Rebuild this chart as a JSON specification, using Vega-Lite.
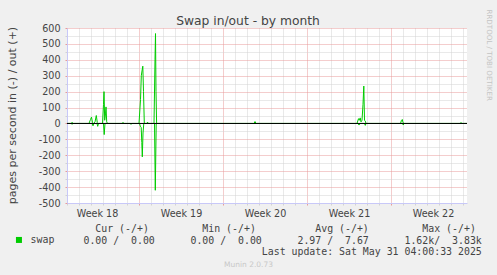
{
  "$schema": "https://vega.github.io/schema/vega-lite/v6.json",
  "width": 400,
  "height": 175,
  "autosize": {"type": "none"},
  "padding": {"left": 67, "top": 28, "right": 30, "bottom": 72},
  "background": "#f0f0f0",
  "title": {"text": "Swap in/out - by month", "font": "DejaVu Sans", "fontSize": 12.3, "fontWeight": "normal", "color": "#444444", "anchor": "middle", "frame": "group", "dx": -19, "dy": 22, "offset": 4},
  "config": {"view": {"fill": "white", "stroke": null}},
  "layer": [
    {
      "data": {"values": [
        {"t": "2025-04-29T00:00", "dir": "out", "v": 0},
        {"t": "2025-04-29T08:00", "dir": "out", "v": 0},
        {"t": "2025-04-29T10:00", "dir": "out", "v": 6},
        {"t": "2025-04-29T13:00", "dir": "out", "v": 0},
        {"t": "2025-04-30T20:00", "dir": "out", "v": 0},
        {"t": "2025-04-30T23:00", "dir": "out", "v": 25},
        {"t": "2025-05-01T01:00", "dir": "out", "v": 40},
        {"t": "2025-05-01T03:00", "dir": "out", "v": 5},
        {"t": "2025-05-01T05:00", "dir": "out", "v": 0},
        {"t": "2025-05-01T08:00", "dir": "out", "v": 10},
        {"t": "2025-05-01T10:36", "dir": "out", "v": 50},
        {"t": "2025-05-01T12:36", "dir": "out", "v": 5},
        {"t": "2025-05-01T14:00", "dir": "out", "v": 0},
        {"t": "2025-05-01T23:00", "dir": "out", "v": 0},
        {"t": "2025-05-02T01:00", "dir": "out", "v": 120},
        {"t": "2025-05-02T02:00", "dir": "out", "v": 200},
        {"t": "2025-05-02T03:24", "dir": "out", "v": 20},
        {"t": "2025-05-02T05:00", "dir": "out", "v": 60},
        {"t": "2025-05-02T06:00", "dir": "out", "v": 104},
        {"t": "2025-05-02T07:24", "dir": "out", "v": 10},
        {"t": "2025-05-02T09:00", "dir": "out", "v": 0},
        {"t": "2025-05-03T14:00", "dir": "out", "v": 0},
        {"t": "2025-05-03T16:00", "dir": "out", "v": 6},
        {"t": "2025-05-03T18:00", "dir": "out", "v": 0},
        {"t": "2025-05-05T00:00", "dir": "out", "v": 0},
        {"t": "2025-05-05T03:00", "dir": "out", "v": 150},
        {"t": "2025-05-05T04:36", "dir": "out", "v": 300},
        {"t": "2025-05-05T06:00", "dir": "out", "v": 330},
        {"t": "2025-05-05T07:36", "dir": "out", "v": 360},
        {"t": "2025-05-05T09:00", "dir": "out", "v": 200},
        {"t": "2025-05-05T10:36", "dir": "out", "v": 0},
        {"t": "2025-05-05T16:00", "dir": "out", "v": 0},
        {"t": "2025-05-05T17:00", "dir": "out", "v": 8},
        {"t": "2025-05-05T19:00", "dir": "out", "v": 0},
        {"t": "2025-05-06T06:00", "dir": "out", "v": 0},
        {"t": "2025-05-06T08:00", "dir": "out", "v": 400},
        {"t": "2025-05-06T09:00", "dir": "out", "v": 565},
        {"t": "2025-05-06T10:00", "dir": "out", "v": 200},
        {"t": "2025-05-06T11:12", "dir": "out", "v": 0},
        {"t": "2025-05-14T14:00", "dir": "out", "v": 0},
        {"t": "2025-05-14T16:00", "dir": "out", "v": 12},
        {"t": "2025-05-14T18:00", "dir": "out", "v": 0},
        {"t": "2025-05-23T04:00", "dir": "out", "v": 0},
        {"t": "2025-05-23T07:00", "dir": "out", "v": 30},
        {"t": "2025-05-23T08:36", "dir": "out", "v": 20},
        {"t": "2025-05-23T10:24", "dir": "out", "v": 35},
        {"t": "2025-05-23T12:00", "dir": "out", "v": 10},
        {"t": "2025-05-23T14:00", "dir": "out", "v": 20},
        {"t": "2025-05-23T16:00", "dir": "out", "v": 120},
        {"t": "2025-05-23T17:36", "dir": "out", "v": 235},
        {"t": "2025-05-23T19:00", "dir": "out", "v": 20},
        {"t": "2025-05-23T20:36", "dir": "out", "v": 15},
        {"t": "2025-05-23T22:00", "dir": "out", "v": 0},
        {"t": "2025-05-26T19:00", "dir": "out", "v": 0},
        {"t": "2025-05-26T21:00", "dir": "out", "v": 20},
        {"t": "2025-05-26T22:36", "dir": "out", "v": 25},
        {"t": "2025-05-27T00:00", "dir": "out", "v": 5},
        {"t": "2025-05-27T02:00", "dir": "out", "v": 0},
        {"t": "2025-05-31T18:00", "dir": "out", "v": 0},
        {"t": "2025-05-31T20:00", "dir": "out", "v": 5},
        {"t": "2025-05-31T22:00", "dir": "out", "v": 0},
        {"t": "2025-06-01T08:00", "dir": "out", "v": 0},
        {"t": "2025-04-29T00:00", "dir": "in", "v": 0},
        {"t": "2025-04-29T08:00", "dir": "in", "v": 0},
        {"t": "2025-04-29T10:00", "dir": "in", "v": -4},
        {"t": "2025-04-29T13:00", "dir": "in", "v": 0},
        {"t": "2025-05-01T02:00", "dir": "in", "v": 0},
        {"t": "2025-05-01T04:00", "dir": "in", "v": -15},
        {"t": "2025-05-01T06:00", "dir": "in", "v": 0},
        {"t": "2025-05-01T12:00", "dir": "in", "v": 0},
        {"t": "2025-05-01T13:24", "dir": "in", "v": -18},
        {"t": "2025-05-01T15:00", "dir": "in", "v": 0},
        {"t": "2025-05-02T01:00", "dir": "in", "v": 0},
        {"t": "2025-05-02T02:24", "dir": "in", "v": -70},
        {"t": "2025-05-02T04:00", "dir": "in", "v": 0},
        {"t": "2025-05-04T06:00", "dir": "in", "v": 0},
        {"t": "2025-05-04T08:00", "dir": "in", "v": -5},
        {"t": "2025-05-04T10:00", "dir": "in", "v": 0},
        {"t": "2025-05-05T01:00", "dir": "in", "v": 0},
        {"t": "2025-05-05T02:36", "dir": "in", "v": -17},
        {"t": "2025-05-05T04:24", "dir": "in", "v": -25},
        {"t": "2025-05-05T05:36", "dir": "in", "v": -120},
        {"t": "2025-05-05T06:36", "dir": "in", "v": -210},
        {"t": "2025-05-05T08:00", "dir": "in", "v": -60},
        {"t": "2025-05-05T09:36", "dir": "in", "v": 0},
        {"t": "2025-05-06T07:00", "dir": "in", "v": 0},
        {"t": "2025-05-06T08:36", "dir": "in", "v": -420},
        {"t": "2025-05-06T10:24", "dir": "in", "v": 0},
        {"t": "2025-05-23T06:00", "dir": "in", "v": 0},
        {"t": "2025-05-23T08:00", "dir": "in", "v": -10},
        {"t": "2025-05-23T10:00", "dir": "in", "v": 0},
        {"t": "2025-05-23T19:00", "dir": "in", "v": 0},
        {"t": "2025-05-23T20:36", "dir": "in", "v": -12},
        {"t": "2025-05-23T22:00", "dir": "in", "v": 0},
        {"t": "2025-05-26T23:00", "dir": "in", "v": 0},
        {"t": "2025-05-27T00:36", "dir": "in", "v": -10},
        {"t": "2025-05-27T02:00", "dir": "in", "v": 0},
        {"t": "2025-06-01T08:00", "dir": "in", "v": 0}
      ]},
      "mark": {"type": "line", "strokeWidth": 1, "interpolate": "linear"},
      "encoding": {
        "x": {
          "field": "t", "type": "temporal",
          "scale": {"domain": [{"year": 2025, "month": 4, "date": 29, "hours": 0}, {"year": 2025, "month": 6, "date": 1, "hours": 8}]},
          "axis": {
            "title": [
              "\u200b\u00a0\u00a0\u00a0\u00a0\u00a0Cur\u00a0(-/+)\u00a0\u00a0\u00a0\u00a0\u00a0\u00a0\u00a0\u00a0\u00a0Min\u00a0(-/+)\u00a0\u00a0\u00a0\u00a0\u00a0\u00a0\u00a0\u00a0\u00a0\u00a0Avg\u00a0(-/+)\u00a0\u00a0\u00a0\u00a0\u00a0\u00a0\u00a0\u00a0\u00a0Max\u00a0(-/+)",
              "\u200b\u00a0\u00a0\u00a00.00\u00a0/\u00a0\u00a00.00\u00a0\u00a0\u00a0\u00a0\u00a0\u00a00.00\u00a0/\u00a0\u00a00.00\u00a0\u00a0\u00a0\u00a0\u00a0\u00a02.97\u00a0/\u00a0\u00a07.67\u00a0\u00a0\u00a0\u00a0\u00a0\u00a01.62k/\u00a0\u00a03.83k",
              "\u200b\u00a0\u00a0\u00a0\u00a0\u00a0\u00a0\u00a0\u00a0\u00a0\u00a0\u00a0\u00a0\u00a0\u00a0\u00a0\u00a0\u00a0\u00a0\u00a0\u00a0\u00a0\u00a0\u00a0\u00a0\u00a0\u00a0\u00a0\u00a0\u00a0\u00a0\u00a0\u00a0\u00a0Last\u00a0update:\u00a0Sat\u00a0May\u00a031\u00a004:00:33\u00a02025"
            ],
            "titleFont": "DejaVu Sans Mono", "titleFontSize": 9.9, "titleFontWeight": "normal", "titleColor": "#444444",
            "titleAlign": "left", "titleBaseline": "top", "titleX": -1.9, "titleY": 20.7, "titleLineHeight": 11.5, "titleLimit": 1000,
            "tickCount": {"interval": "day", "step": 1},
            "labelExpr": "day(datum.value) === 4 ? 'Week ' + timeFormat(datum.value, '%V') : ''",
            "labelOffset": 6, "labelOverlap": false, "labelFlush": false, "labelBound": false,
            "labelFont": "DejaVu Sans", "labelFontSize": 9.6, "labelColor": "#444444", "labelPadding": 3,
            "grid": true,
            "gridColor": {"condition": {"test": "day(datum.value) === 1", "value": "#e89a9a"}, "value": "#d2d2d2"},
            "gridDash": [1, 1],
            "tickSize": 2,
            "tickColor": {"condition": {"test": "day(datum.value) === 1", "value": "#e89a9a"}, "value": "#d2d2d2"},
            "domainColor": "#c8c8f8", "domainWidth": 1
          }
        },
        "y": {
          "field": "v", "type": "quantitative",
          "scale": {"domain": [-500, 600], "nice": false, "zero": false},
          "axis": {
            "values": [-500, -450, -400, -350, -300, -250, -200, -150, -100, -50, 0, 50, 100, 150, 200, 250, 300, 350, 400, 450, 500, 550, 600],
            "labelExpr": "datum.value % 100 === 0 ? '' + datum.value : ''",
            "labelFont": "DejaVu Sans", "labelFontSize": 9.6, "labelColor": "#444444", "labelPadding": 5,
            "labelOverlap": false, "labelBound": false, "labelFlush": false,
            "tickSize": 2,
            "tickColor": {"condition": {"test": "datum.value % 100 === 0", "value": "#e89a9a"}, "value": "#d2d2d2"},
            "grid": true,
            "gridColor": {"condition": {"test": "datum.value % 100 === 0", "value": "#e89a9a"}, "value": "#d2d2d2"},
            "gridDash": [1, 1],
            "domainColor": "#c8c8f8", "domainWidth": 1,
            "title": "pages per second in (-) / out (+)",
            "titleFont": "DejaVu Sans", "titleFontSize": 11, "titleFontWeight": "normal", "titleColor": "#444444",
            "titleX": -55, "titleY": 87, "titleAlign": "center", "titleBaseline": "middle", "titleAngle": -90
          }
        },
        "detail": {"field": "dir"},
        "color": {
          "datum": "swap",
          "scale": {"range": ["#00cc00"]},
          "legend": {
            "title": null, "orient": "none", "legendX": -53, "legendY": 207, "padding": 0,
            "symbolType": "square", "symbolSize": 9, "symbolStrokeWidth": 3, "symbolFillColor": "#00cc00",
            "labelFont": "DejaVu Sans Mono", "labelFontSize": 9.9, "labelColor": "#444444", "labelOffset": 6.7
          }
        }
      }
    },
    {
      "data": {"values": [{}]},
      "mark": {"type": "rule", "color": "black", "strokeWidth": 1},
      "encoding": {
        "x": {
          "datum": {"year": 2025, "month": 4, "date": 29, "hours": 0}, "type": "temporal",
          "axis": {"orient": "bottom", "title": "Munin 2.0.73", "labels": false, "ticks": false, "domain": false, "grid": false,
            "titleX": 181, "titleY": 61, "titleAlign": "center", "titleBaseline": "middle",
            "titleFont": "DejaVu Sans", "titleFontSize": 7.5, "titleFontWeight": "normal", "titleColor": "#c8c8c8"}
        },
        "x2": {"datum": {"year": 2025, "month": 6, "date": 1, "hours": 8}},
        "y": {
          "datum": 0, "type": "quantitative",
          "axis": {"orient": "right", "title": "RRDTOOL / TOBI OETIKER", "labels": false, "ticks": false, "domain": false, "grid": false,
            "titleAngle": 90, "titleX": 21, "titleY": -19, "titleAlign": "left", "titleBaseline": "middle",
            "titleFont": "DejaVu Sans", "titleFontSize": 7.1, "titleFontWeight": "normal", "titleColor": "#c4c4c4"}
        }
      }
    }
  ],
  "resolve": {"axis": {"x": "independent", "y": "independent"}}
}
